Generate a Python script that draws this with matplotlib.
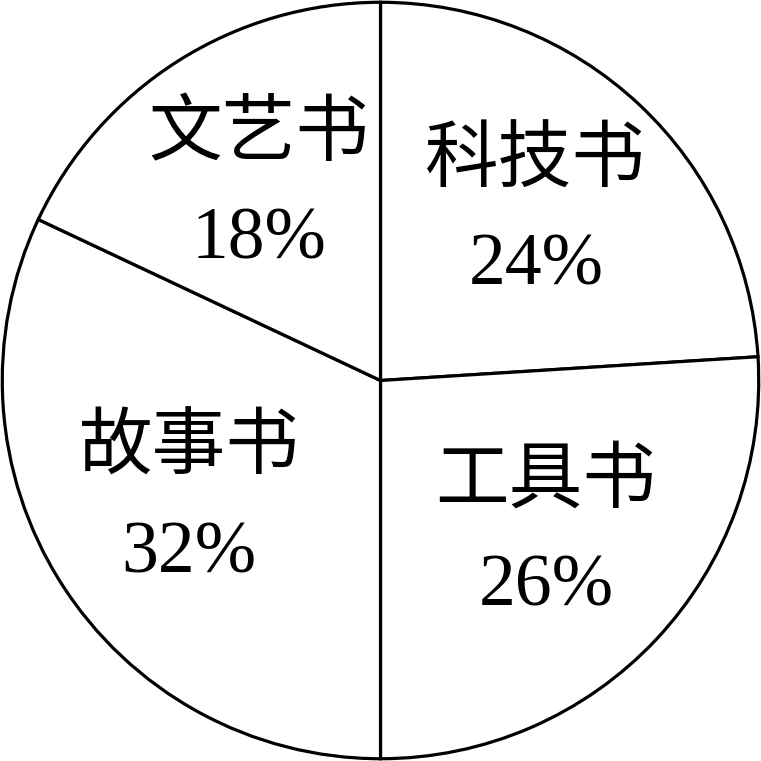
import matplotlib
matplotlib.use("Agg")
import matplotlib.pyplot as plt

categories = ["科技书", "工具书", "故事书", "文艺书"]
percents = [24, 26, 32, 18]

fig = plt.figure(figsize=(7.61, 7.61), dpi=100)
ax = fig.add_axes([0, 0, 1, 1])

labels = [f"{c}\n{p}%" for c, p in zip(categories, percents)]
wedges, texts = ax.pie(
    percents,
    labels=labels,
    startangle=90,
    counterclock=False,
    colors=["white"] * len(percents),
    wedgeprops=dict(edgecolor="black", linewidth=2.3),
    labeldistance=0.6,
    textprops=dict(fontsize=53, family=["Liberation Serif", "Noto Sans CJK SC"], color="black"),
)
for t in texts:
    t.set_ha("center")
    t.set_va("center")
    t.set_linespacing(1.7)

ax.set_xlim(-1.006, 1.006)
ax.set_ylim(-1.006, 1.006)
ax.set_aspect("equal")
ax.axis("off")
fig.savefig("out.png", dpi=100, facecolor="white")
